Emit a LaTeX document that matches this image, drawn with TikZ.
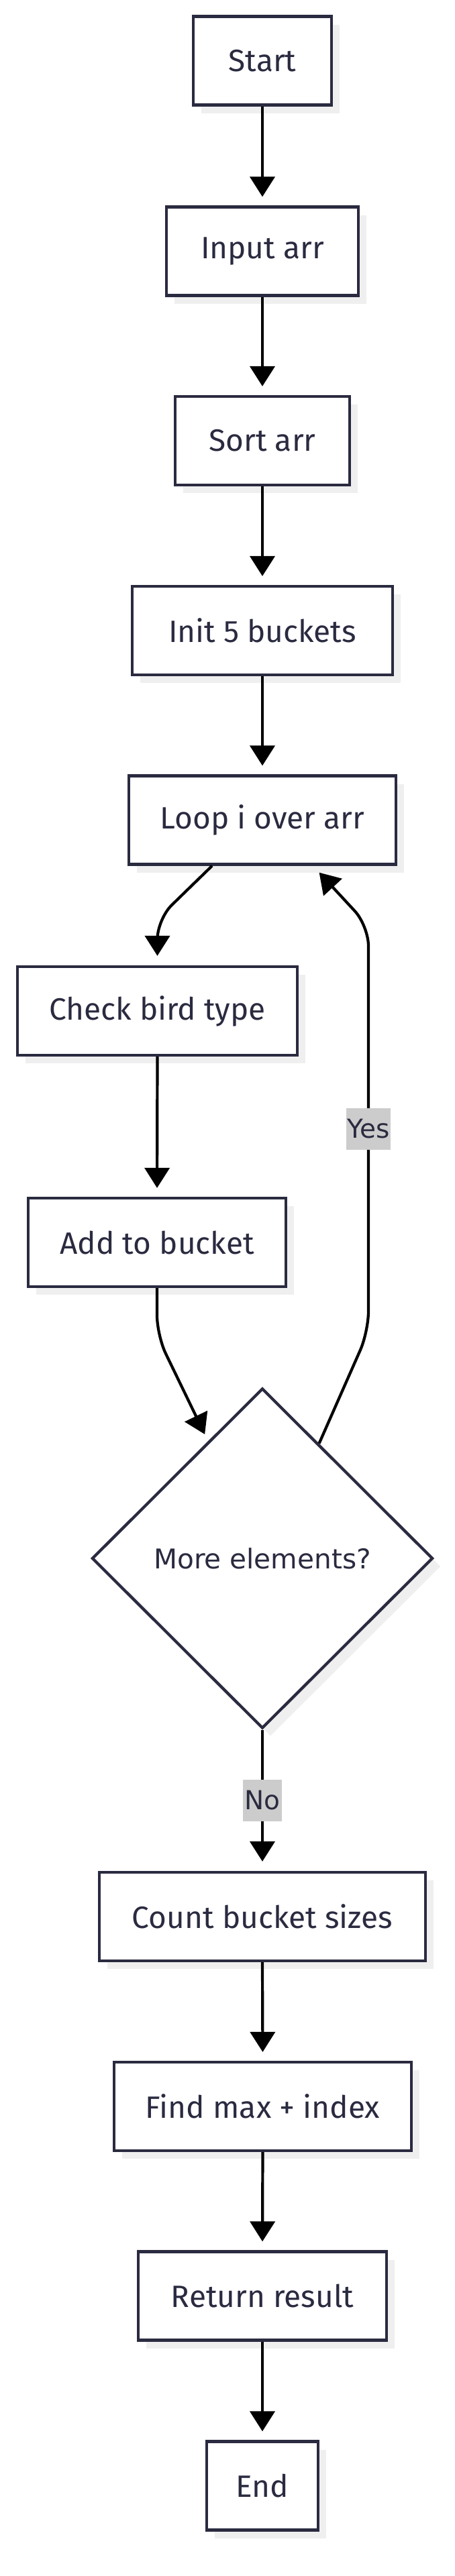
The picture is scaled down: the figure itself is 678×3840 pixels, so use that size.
\documentclass[tikz,border=0pt]{standalone}
\usepackage{fontspec}
\setmainfont{Fira Sans}
\newfontfamily\djv{DejaVu Sans}
\usetikzlibrary{calc,shapes.geometric,arrows.meta,shadows}
\definecolor{ink}{RGB}{42,42,64}
\definecolor{shade}{RGB}{239,239,239}
\definecolor{lblgray}{RGB}{204,204,204}
\begin{document}
\begin{tikzpicture}[x=0.5pt,y=-0.5pt,
  stepbox/.style={draw=ink, line width=2.15pt, fill=white, text=ink,
    font=\fontsize{23}{26}\selectfont, minimum height=66pt, inner sep=0pt,
    drop shadow={shadow xshift=6pt, shadow yshift=-6pt, fill=shade, opacity=1}},
  decide/.style={diamond, draw=ink, line width=2.15pt, fill=white, text=ink,
    font=\djv\fontsize{20.3}{24}\selectfont, inner sep=0pt, aspect=1,
    minimum width=254pt, minimum height=253.5pt,
    drop shadow={shadow xshift=6pt, shadow yshift=-6pt, fill=shade, opacity=1}},
  flow/.style={draw=black, line width=2.1pt, -{Triangle[length=15pt,width=18.5pt]}},
  edgelabel/.style={sharp corners, fill=lblgray, text=ink, font=\djv\fontsize{19.5}{23}\selectfont,
    inner xsep=1pt, inner ysep=0pt, minimum height=31pt},
  rc/.style={rounded corners=15pt}]
\fill[white] (0,0) rectangle (678,3840);
\useasboundingbox (0,0) rectangle (678,3840);

\node[stepbox, minimum width=103pt] (start) at (391,90.5) {Start};
\node[stepbox, minimum width=143pt] (input) at (391,374.5) {Input arr};
\node[stepbox, minimum width=130pt] (sort) at (391,657) {Sort arr};
\node[stepbox, minimum width=194pt] (init) at (391,940) {Init 5 buckets};
\node[stepbox, minimum width=199pt] (loop) at (391,1222.5) {Loop i over arr};
\node[stepbox, minimum width=208.5pt] (check) at (234.5,1507) {Check bird type};
\node[stepbox, minimum width=192pt] (add) at (234,1852) {Add to bucket};
\node[decide] (dec) at (391,2323) {More elements?};
\node[stepbox, minimum width=243pt] (count) at (391,2857) {Count bucket sizes};
\node[stepbox, minimum width=221.5pt] (find) at (391.5,3140) {Find max + index};
\node[stepbox, minimum width=185pt] (ret) at (391,3422.5) {Return result};
\node[stepbox, minimum width=83pt] (end) at (391,3705.5) {End};

\draw[flow, shorten >=6.5pt] (start.south) -- (input.north);
\draw[flow, shorten >=6.5pt] (input.south) -- (sort.north);
\draw[flow, shorten >=6.5pt] (sort.south) -- (init.north);
\draw[flow, shorten >=6.5pt] (init.south) -- (loop.north);
\draw[flow, rc] ($(loop.south)+(-75,0)$) -- (234.5,1370) -- ($(check.north)+(0,-14)$);
\draw[flow, shorten >=6.5pt] (check.south) -- (add.north);
\draw[flow, rc] (add.south) -- (234,1991) -- ($(dec.north)!0.3!(dec.west)+(-9,-6)$);
\draw[flow, rc] ($(dec.north)!0.33!(dec.east)$) -- (549,1985)
  -- node[edgelabel, pos=0.5] (yes) {Yes} (549,1380) -- ($(loop.south)+(84.6,10)$);
\draw[flow, shorten >=7pt] (dec.south) -- node[edgelabel] (no) {No} (count.north);
\draw[flow, shorten >=6.5pt] (count.south) -- (find.north);
\draw[flow, shorten >=6.5pt] (find.south) -- (ret.north);
\draw[flow, shorten >=6.5pt] (ret.south) -- (end.north);
\end{tikzpicture}
\end{document}
